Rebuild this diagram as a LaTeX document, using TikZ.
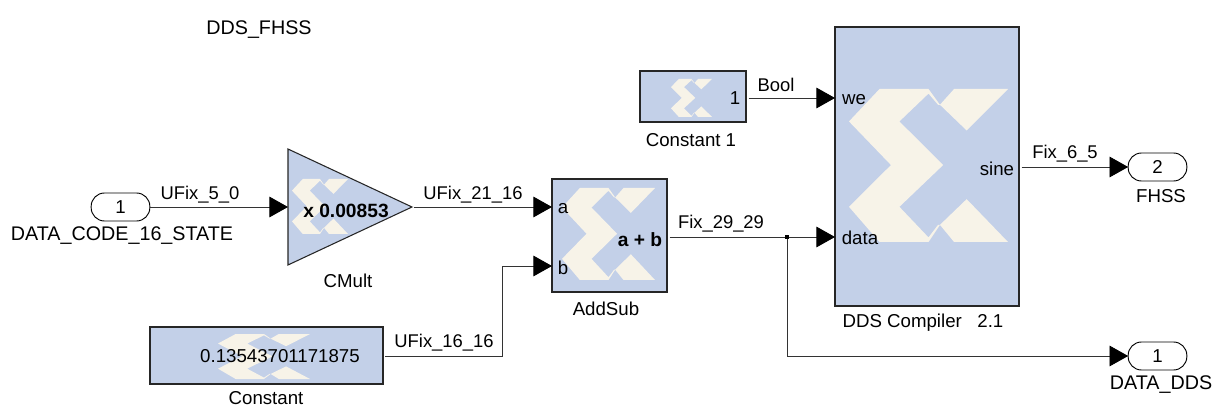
\documentclass[tikz,border=0pt]{standalone}
\usepackage{fontspec}
\setmainfont{Liberation Sans}
\usetikzlibrary{arrows.meta,shapes.geometric}

\definecolor{blockblue}{HTML}{C3D0E8}
\definecolor{logocream}{HTML}{F7F3E8}
\newcommand{\pxsize}[0]{0.75pt}

\tikzstyle{dedge} = [-{Triangle[length=14pt,width=15.5pt,black]},draw=black!80,line width=0.7pt]
\tikzstyle{block}=[
  rectangle,
  draw=black!85,
  fill=blockblue,
  line width=0.8pt,
  inner sep=0pt,
  outer sep=0pt,
  anchor=north west,
]
\tikzstyle{port}=[
  rectangle,
  rounded corners=10pt,
  draw=black,
  fill=white,
  line width=0.7pt,
  minimum width=44pt,
  minimum height=21pt,
  inner sep=0pt,
  outer sep=0pt,
  font=\fontsize{14pt}{16pt}\selectfont,
]
\tikzstyle{blockname}=[inner sep=0pt,font=\fontsize{14pt}{16pt}\selectfont]
\tikzstyle{bigname}=[inner sep=0pt,font=\fontsize{14.8pt}{16pt}\selectfont]
\tikzstyle{signame}=[inner sep=0pt,font=\fontsize{13.8pt}{16pt}\selectfont]
\tikzstyle{boldtext}=[inner sep=0pt,font=\fontsize{14.4pt}{16pt}\selectfont\bfseries]
\tikzstyle{logo}=[fill=logocream,draw=none]

% logo at left, top, width, height
\newcommand{\blocklogo}[4]{
  \begin{scope}[shift={(#1,#2)},x=#3*\pxsize,y=-#4*\pxsize]
    \fill[logo] (.192,0) -- (.5,0) -- (.572,.103) -- (.56,.103) -- (.5,.03) -- (.317,.212)
      -- (.592,.497) -- (.317,.77) -- (.5,.97) -- (.56,.888) -- (.572,.888) -- (.5,1)
      -- (.192,1) -- (0,.77) -- (.264,.497) -- (0,.212) -- cycle;
    \fill[logo] (.572,.103) -- (.661,0) -- (1,0) -- (.74,.271) -- cycle;
    \fill[logo] (.572,.888) -- (.74,.72) -- (1,1) -- (.661,1) -- cycle;
  \end{scope}
}

\begin{document}
\begin{tikzpicture}[x=\pxsize,y=-\pxsize]
  \useasboundingbox (0,0) rectangle (1215,406);

  \node[bigname] (title) at (259,30) {DDS\_FHSS};

  % blocks
  \node[shape=isosceles triangle,isosceles triangle stretches,
    draw=black!85,fill=blockblue,line width=0.8pt,inner sep=0pt,outer sep=0pt,
    minimum width=87pt,minimum height=93pt,anchor=lower side] (cmult) at (288,207) {};
  \node[block,minimum width=86.25pt,minimum height=84.75pt] (addsub) at (552,179) {};
  \node[block,minimum width=174.75pt,minimum height=42.75pt] (constant) at (150,327) {};
  \node[block,minimum width=79.5pt,minimum height=38.25pt] (constantone) at (640,71) {};
  \node[block,minimum width=138pt,minimum height=209.25pt] (dds) at (835,27) {};

  \blocklogo{292}{179}{56}{55}
  \blocklogo{562}{188}{93}{92}
  \blocklogo{218}{334}{92}{45}
  \blocklogo{671}{79}{41}{38}
  \blocklogo{849}{89}{159}{153}

  % ports
  \node[port] (datacode) at (120.5,207) {1};
  \node[port] (fhss) at (1157.5,167) {2};
  \node[port] (datadds) at (1157.5,356) {1};

  \coordinate (ina) at (552,207);
  \coordinate (inb) at (552,266);
  \coordinate (inwe) at (835,98);
  \coordinate (indata) at (835,237);
  \coordinate (outsum) at (667,237);
  \coordinate (outconst) at (383,356);
  \coordinate (outone) at (746,98);
  \coordinate (outsine) at (1019,167);
  \coordinate (bend) at (502,356);
  \coordinate (bendup) at (502,266);
  \coordinate (junction) at (787,237);
  \coordinate (junctiondown) at (787,356);

  % wires
  \draw[dedge] (datacode.east) -- (cmult.lower side);
  \draw[dedge,shorten <=1.5pt] (cmult.apex) -- (ina);
  \draw[dedge,shorten <=1.5pt] (outconst) -- (bend) -- (bendup) -- (inb);
  \draw[dedge,shorten <=2pt] (outsum) -- (indata);
  \draw[dedge,shorten <=2pt] (outone) -- (inwe);
  \draw[dedge,shorten <=2pt] (outsine) -- (fhss.west);
  \draw[dedge] (junction) -- (junctiondown) -- (datadds.west);
  \fill[black] ([xshift=-1.5pt,yshift=-1.5pt] junction) rectangle ([xshift=1.5pt,yshift=1.5pt] junction);

  % text in blocks
  \node[boldtext] (cmulttext) at (346,211) {x 0.00853};
  \node[boldtext] (addsubtext) at (640,240) {a + b};
  \node[blockname] (consttext) at (280,356) {0.13543701171875};
  \node[blockname] (onetext) at (735,98) {1};
  \node[blockname] (porta) at (563,209) {a};
  \node[blockname] (portb) at (563,268) {b};
  \node[blockname] (portwe) at (854,100) {we};
  \node[blockname] (portdata) at (860,238) {data};
  \node[blockname] (portsine) at (997,169) {sine};

  % block names
  \node[bigname] (datacodename) at (122,236) {DATA\_CODE\_16\_STATE};
  \node[blockname] (cmultname) at (348,281) {CMult};
  \node[blockname] (addsubname) at (606,309) {AddSub};
  \node[blockname] (constname) at (266,398) {Constant};
  \node[blockname] (onename) at (691,140) {Constant 1};
  \node[blockname] (ddsname) at (923,323) {DDS Compiler\ \ \ 2.1};
  \node[blockname] (fhssname) at (1161,196) {FHSS};
  \node[bigname] (dataddsname) at (1161,385) {DATA\_DDS};

  % signal names
  \node[signame] (sigfive) at (200,195) {UFix\_5\_0};
  \node[signame] (sigtwentyone) at (473,195) {UFix\_21\_16};
  \node[signame] (sigsixteen) at (444,343) {UFix\_16\_16};
  \node[signame] (sigtwentynine) at (721,224) {Fix\_29\_29};
  \node[signame] (sigbool) at (776,85) {Bool};
  \node[signame] (sigsix) at (1065,154) {Fix\_6\_5};
\end{tikzpicture}
\end{document}
